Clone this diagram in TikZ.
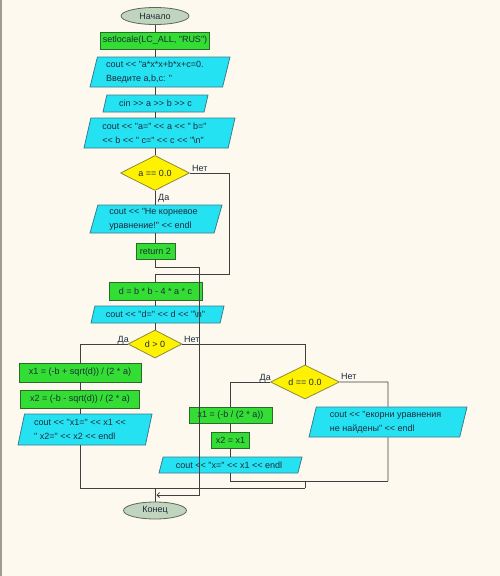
\documentclass[tikz,border=0pt]{standalone}
\usepackage{fontspec}
\setmainfont{Liberation Sans}[Ligatures=TeXOff]
\usetikzlibrary{shapes.geometric,arrows.meta}
\definecolor{bgc}{HTML}{FDF9EF}
\definecolor{framec}{HTML}{A09C92}
\definecolor{gfill}{HTML}{33DD33}
\definecolor{gline}{HTML}{2A6A2A}
\definecolor{cfill}{HTML}{25E2F2}
\definecolor{cline}{HTML}{3C7C8C}
\definecolor{yfill}{HTML}{FFF200}
\definecolor{yline}{HTML}{8C8A3C}
\definecolor{efill}{HTML}{C0D4BE}
\definecolor{eline}{HTML}{5A6A5A}
\definecolor{connc}{HTML}{404040}
\definecolor{txt}{HTML}{1E2B3C}
\begin{document}
\begin{tikzpicture}[x=1pt,y=-1pt,
  every node/.style={font=\fontsize{9}{14}\selectfont, text=txt, inner sep=0pt},
  term/.style={ellipse, draw=eline, fill=efill, line width=0.8pt, minimum width=#1, minimum height=17},
  act/.style 2 args={rectangle, draw=gline, fill=gfill, line width=0.8pt, minimum width=#1, minimum height=#2},
  io/.style n args={4}{trapezium, trapezium stretches body=true, trapezium left angle=#3, trapezium right angle=#4, minimum width=#1, minimum height=#2, draw=cline, fill=cfill, line width=0.8pt, align=left},
  cond/.style 2 args={diamond, aspect=2, draw=yline, fill=yfill, line width=0.8pt, minimum width=#1, minimum height=#2},
  conn/.style={draw=connc, line width=0.8pt},
  lbl/.style={font=\fontsize{9}{11}\selectfont, text=txt}
]
\fill[bgc] (0,0) rectangle (500,576);
\useasboundingbox (0,0) rectangle (500,576);
\fill[framec] (0,0) rectangle (2,576);

% column coordinates
\coordinate (mc) at (155,0);
\coordinate (lc) at (80,0);
\coordinate (dc) at (305,0);
\coordinate (rc) at (230.5,0);
\coordinate (ec) at (388,0);

% nodes
\node[term=68] (start) at (155,16) {Начало};
\node[act={109}{17}] (setl) at (155,40.5) {setlocale(LC\_ALL, "RUS")};
\node[io={140}{30}{71.6}{108.4}] (p1) at (160,72) {cout << "a*x*x+b*x+c=0.\hspace*{10pt}\\Введите a,b,c: "};
\node[io={105}{17}{59.5}{120.5}] (cin) at (155.5,103.5) {cin >> a >> b >> c};
\node[io={151}{30}{71.6}{108.4}] (p4) at (159.5,133) {cout << "a=" << a << " b="\hspace*{10pt}\\<< b << " c=" << c << "\textbackslash n"\hspace*{10pt}};
\node[cond={69}{35}] (a0) at (155,173) {a == 0.0};
\node[io={132}{28}{70.3}{109.7}] (nk) at (156,219) {cout << "Не корневое\hspace*{5pt}\\уравнение!" << endl};
\node[act={39}{16}] (ret) at (155.5,251) {return 2};
\node[act={93}{18}] (dcalc) at (155.5,291) {d = b * b - 4 * a * c};
\node[io={133}{17}{59.5}{120.5}] (dout) at (157.5,314.5) {cout << "d=" << d << "\textbackslash n"\hspace*{4pt}};
\node[cond={54}{28}] (dpos) at (155,344) {d > 0};
\node[act={122}{19}] (x1L) at (80,372.5) {x1 = (-b + sqrt(d)) / (2 * a)};
\node[act={119}{18}] (x2L) at (80,399) {x2 = (-b - sqrt(d)) / (2 * a)};
\node[io={134}{31}{72.1}{107.9}] (xoutL) at (85,429.5) {cout << "x1=" << x1 <<\hspace*{10pt}\\" x2=" << x2 << endl};
\node[cond={69}{34}] (d0) at (305,382) {d == 0.0};
\node[act={83}{16}] (x1R) at (230.5,415.5) {x1 = (-b / (2 * a))};
\node[act={38}{16}] (x2R) at (230.5,440) {x2 = x1};
\node[io={143}{16}{58}{122}] (xoutR) at (230.5,465) {cout << "x=" << x1 << endl\hspace*{3pt}};
\node[io={158}{30}{71.6}{108.4}] (ek) at (388,422) {cout << "екорни уравнения\hspace*{5pt}\\не найдены" << endl};
\node[term=63] (stop) at (155,510.5) {Конец};

% labels
\node[lbl, anchor=base west] (l1) at (192,171.5) {Нет};
\node[lbl, anchor=base west] (l2) at (158,200.5) {Да};
\node[lbl, anchor=base east] (l3) at (129,342) {Да};
\node[lbl, anchor=base west] (l4) at (184,342) {Нет};
\node[lbl, anchor=base east] (l5) at (271,380) {Да};
\node[lbl, anchor=base west] (l6) at (341,379.5) {Нет};

% junction coordinates
\coordinate (j1) at (199,267);
\coordinate (j2) at (199,495);
\coordinate (j3) at (156.5,495);
\coordinate (j4) at (229,173);
\coordinate (j5) at (229,274);
\coordinate (j6) at (80,488);
\coordinate (j7) at (305,488);
\coordinate (j8) at (230.5,481);
\coordinate (j9) at (388,481);

% connectors
\draw[conn] (start.south) -- (mc |- setl.north);
\draw[conn] (mc |- setl.south) -- (mc |- p1.north);
\draw[conn] (mc |- p1.south) -- (mc |- cin.north);
\draw[conn] (mc |- cin.south) -- (mc |- p4.north);
\draw[conn] (mc |- p4.south) -- (a0.north);
\draw[conn] (a0.south) -- (mc |- nk.north);
\draw[conn] (mc |- nk.south) -- (mc |- ret.north);
\draw[conn, -{Straight Barb[length=2.5pt,width=5pt]}] (mc |- ret.south) -- (mc |- j1) -- (j1) -- (j2) -- (j3);
\draw[conn] (a0.east) -- (j4) -- (j5) -- (mc |- j5) -- (mc |- dcalc.north);
\draw[conn] (mc |- dcalc.south) -- (mc |- dout.north);
\draw[conn] (mc |- dout.south) -- (dpos.north);
\draw[conn] (dpos.west) -- (lc |- dpos.west) -- (lc |- x1L.north);
\draw[conn] (x1L.south) -- (x2L.north);
\draw[conn] (x2L.south) -- (lc |- xoutL.north);
\draw[conn] (lc |- xoutL.south) -- (j6) -- (j7);
\draw[conn] (dpos.east) -- (dc |- dpos.east) -- (d0.north);
\draw[conn] (d0.west) -- (rc |- d0.west) -- (rc |- x1R.north);
\draw[conn] (x1R.south) -- (x2R.north);
\draw[conn] (x2R.south) -- (rc |- xoutR.north);
\draw[conn] (rc |- xoutR.south) -- (j8) -- (j9);
\draw[conn] (d0.east) -- (ec |- d0.east) -- (ek.north);
\draw[conn] (ek.south) -- (j9);
\draw[conn] (dc |- j9) -- (j7);
\draw[conn] (mc |- j6) -- (stop.north);
\end{tikzpicture}
\end{document}
